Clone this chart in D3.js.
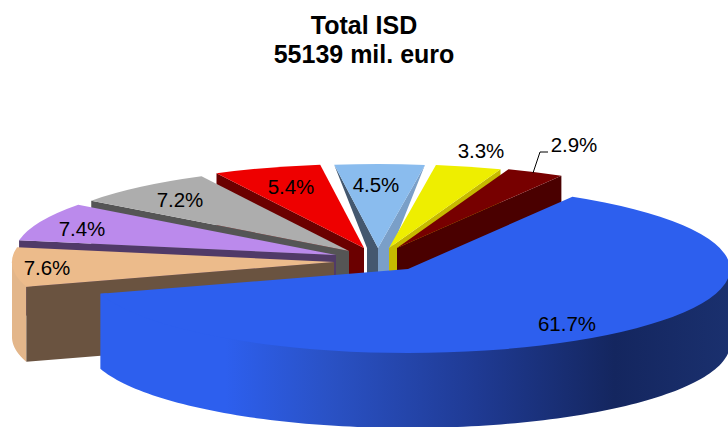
<!DOCTYPE html>
<html><head><meta charset="utf-8">
<style>html,body{margin:0;padding:0;background:#fff}svg{display:block}text{font-family:"Liberation Sans",Arial,sans-serif;fill:#000}</style>
<script src="https://cdn.jsdelivr.net/npm/d3@7"></script>
</head><body>
<script>
const categories = ["Blue","Peach","Purple","Gray","Red","Light blue","Yellow","Dark red"];
const shares = [61.7,7.6,7.4,7.2,5.4,4.5,3.3,2.9];
const titleLines = ["Total ISD","55139 mil. euro"];
const topColors  = ["#2d5fee","#ecbb8b","#bb8aec","#adadad","#ee0000","#8abcee","#eeee00","#770000"];
const faceColors = ["#2d5fee","#6a5340","#503a68","#555555","#6b0000","#44586f","#c6ba00","#4a0000"];
const endFaceColors = ["#2d5fee","#6a5340","#503a68","#555555","#6b0000","#7a9fc8","#c6ba00","#4a0000"];
const wallColors = ["url(#wall)","#e3b68a","#bb8aec","#adadad","#ee0000","#8abcee","#eeee00","#770000"];

// layout of the exploded slices
const W=728,H=427,rx=322,ry=84,depth=75,startDeg=30.7;
const apexX=[408,334,336,349,364,378,389,397];
const apexY=[269,262,255,251,248,248,248,248];
const wedgeStart=[0,0,0,0,0,-11,0,0];
const wedgeEnd=[0,0,0,0,0,14,0,0];
const drawOrder=[5,6,7,4,3,2,1,0];
const labelX=[567,47,82,180,291,376,481,574];
const labelY=[324,268,229,200,187,185,151,145];

const svg=d3.select("body").append("svg").attr("width",W).attr("height",H);
const grad=svg.append("defs").append("linearGradient").attr("id","wall")
  .attr("gradientUnits","userSpaceOnUse").attr("x1",100).attr("x2",728).attr("y1",0).attr("y2",0);
[[0,"#2d5fee"],[0.2,"#2d5fee"],[0.36,"#2a52c6"],[0.6,"#1f3a93"],[0.82,"#14265f"],[1,"#1a306e"]]
  .forEach(s=>grad.append("stop").attr("offset",s[0]).attr("stop-color",s[1]));

const t0=startDeg*Math.PI/180;
const pie=d3.pie().sort(null).startAngle(t0).endAngle(t0+2*Math.PI);
const arcs=pie(shares);
const arc=d3.arc().innerRadius(0).outerRadius(rx);
const line=d3.line();
const fmt=d3.format(".1f");
const rim=(i,a,k=1)=>[apexX[i]+k*rx*Math.sin(a),apexY[i]-k*ry*Math.cos(a)];
const norm=a=>((a%(2*Math.PI))+2*Math.PI)%(2*Math.PI);

function face(i,a,wedge){
  const c=rim(i,a),ax=apexX[i],ay=apexY[i];
  const pts=wedge
    ? [c,[ax,ay],[ax,ay+depth],[ax+wedge,ay+depth],[ax+wedge,ay]]
    : [c,[ax,ay],[ax,ay+depth],[c[0],c[1]+depth]];
  return line(pts)+"Z";
}
function wall(i,a0,a1){
  const n=120,angles=d3.range(n+1).map(k=>a0+(a1-a0)*k/n);
  const top=angles.map(a=>rim(i,a,0.98));
  const bot=angles.map(a=>{const p=rim(i,a);return [p[0],p[1]+depth];}).reverse();
  return line([rim(i,a0),...top,rim(i,a1),...bot])+"Z";
}

drawOrder.forEach(i=>{
  const d=arcs[i],g=svg.append("g");
  const s=norm(d.startAngle),e=norm(d.endAngle);
  // outer wall: only the part between 90deg and 270deg faces the viewer
  let a0=d.startAngle,a1=d.endAngle;
  const shift=Math.floor((a0-Math.PI/2)/(2*Math.PI))*2*Math.PI;
  const lo=Math.PI/2+shift,hi=3*Math.PI/2+shift;
  [[lo,hi],[lo+2*Math.PI,hi+2*Math.PI]].forEach(([l,h])=>{
    const w0=Math.max(a0,l),w1=Math.min(a1,h);
    if(w1>w0) g.append("path").attr("d",wall(i,w0,w1)).attr("fill",wallColors[i]);
  });
  if(i!==0){
    if(s>Math.PI) g.append("path").attr("d",face(i,d.startAngle,wedgeStart[i])).attr("fill",faceColors[i]);
    if(e<Math.PI) g.append("path").attr("d",face(i,d.endAngle,wedgeEnd[i])).attr("fill",endFaceColors[i]);
  }
  g.append("path").attr("d",arc(d)).attr("fill",topColors[i])
    .attr("transform",`translate(${apexX[i]},${apexY[i]}) scale(1,${ry/rx})`);
});

svg.append("path").attr("d",line([[533,173],[540,152],[548,152]]))
  .attr("fill","none").attr("stroke","#000").attr("stroke-width",1);

svg.selectAll("text.lab").data(shares).join("text").attr("class","lab")
  .attr("x",(d,i)=>labelX[i]).attr("y",(d,i)=>labelY[i]).attr("dy","0.35em")
  .attr("text-anchor","middle").attr("font-size",20.5).text(d=>fmt(d)+"%");

svg.selectAll("text.title").data(titleLines).join("text").attr("class","title")
  .attr("x",364).attr("y",(d,i)=>34+i*29).attr("text-anchor","middle")
  .attr("font-size",25).attr("font-weight","bold").text(d=>d);
</script>
</body></html>
